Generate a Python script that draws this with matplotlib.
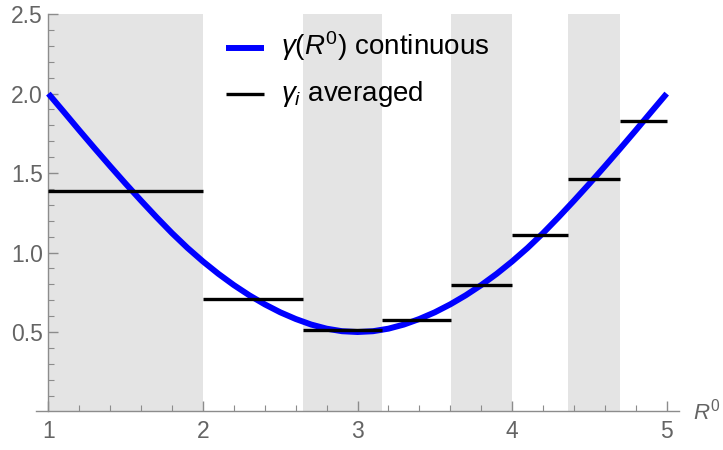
import numpy as np
import matplotlib
matplotlib.use("Agg")
import matplotlib.pyplot as plt
from matplotlib.ticker import FixedLocator
from matplotlib.lines import Line2D

plt.rcParams["font.family"] = ["Liberation Sans", "DejaVu Sans"]
plt.rcParams["mathtext.fontset"] = "custom"
plt.rcParams["mathtext.rm"] = "Liberation Sans"
plt.rcParams["mathtext.it"] = "Liberation Sans:italic"

# continuous gamma(R0) sampled on a 0.1 grid
r_grid = [1.0, 1.1, 1.2, 1.3, 1.4, 1.5, 1.6, 1.7, 1.8, 1.9, 2.0,
          2.1, 2.2, 2.3, 2.4, 2.5, 2.6, 2.7, 2.8, 2.9, 3.0,
          3.1, 3.2, 3.3, 3.4, 3.5, 3.6, 3.7, 3.8, 3.9, 4.0,
          4.1, 4.2, 4.3, 4.4, 4.5, 4.6, 4.7, 4.8, 4.9, 5.0]
gamma_cont = [2.000, 1.885, 1.769, 1.655, 1.543, 1.433, 1.326, 1.222, 1.122, 1.029, 0.944,
              0.866, 0.795, 0.731, 0.674, 0.624, 0.582, 0.547, 0.521, 0.505, 0.500,
              0.505, 0.521, 0.547, 0.582, 0.624, 0.674, 0.731, 0.795, 0.866, 0.944,
              1.029, 1.122, 1.222, 1.326, 1.433, 1.543, 1.655, 1.769, 1.885, 2.000]

# bin edges and bin-averaged gamma_i
bin_edges = [1.0, 2.0, 2.65, 3.16, 3.605, 4.0, 4.36, 4.7, 5.0]
gamma_avg = [1.385, 0.71, 0.511, 0.574, 0.795, 1.108, 1.462, 1.827]

# shaded bins (every other bin)
shade_bins = [0, 2, 4, 6]

legend_labels = [r"$\gamma(R^0)$ continuous", r"$\gamma_i$ averaged"]
x_label = r"$R^0$"

blue = "#0000ff"
tick_gray = "#8c8c8c"
label_gray = "#646464"

fig = plt.figure(figsize=(7.23, 4.5), dpi=100)
ax = fig.add_axes([0.0498, 0.0856, 0.889, 0.883])

ax.set_xlim(0.92, 5.078)
ax.set_ylim(0, 2.5)

for i in shade_bins:
    ax.axvspan(bin_edges[i], bin_edges[i + 1], color="#e4e4e4", lw=0, zorder=0)

ax.plot(r_grid, gamma_cont, color=blue, lw=4.3, solid_capstyle="butt",
        solid_joinstyle="round", zorder=3)
ax.hlines(gamma_avg, bin_edges[:-1], bin_edges[1:], color="black", lw=2.4, zorder=4)

# axes styling
for s in ["top", "right"]:
    ax.spines[s].set_visible(False)
ax.spines["left"].set_position(("data", 1.0))
ax.spines["left"].set_bounds(0, 2.5)
for s in ["left", "bottom"]:
    ax.spines[s].set_color(tick_gray)
    ax.spines[s].set_linewidth(1.0)

ax.xaxis.set_major_locator(FixedLocator([1, 2, 3, 4, 5]))
ax.xaxis.set_minor_locator(FixedLocator([x / 5 for x in range(5, 26) if x % 5]))
ax.yaxis.set_major_locator(FixedLocator([0.5, 1.0, 1.5, 2.0, 2.5]))
ax.yaxis.set_minor_locator(FixedLocator([y / 10 for y in range(1, 25) if y % 5]))
ax.set_yticklabels(["0.5", "1.0", "1.5", "2.0", "2.5"])

ax.tick_params(which="both", direction="in", colors=tick_gray, labelcolor=label_gray,
               labelsize=16.5)
ax.tick_params(which="major", length=7, width=1.0)
ax.tick_params(which="minor", length=4, width=0.8)
ax.tick_params(axis="x", pad=6)
ax.tick_params(axis="y", pad=4)

ax.text(5.172, 0.0, x_label, color=label_gray, fontsize=16,
        ha="left", va="center", clip_on=False)

# legend drawn in figure coordinates
legend_rows = [(0.894, 0.8778, blue, 4.3), (0.791, 0.7756, "black", 2.4)]
for (y_line, y_text, col, lw), lab in zip(legend_rows, legend_labels):
    fig.add_artist(Line2D([0.3126, 0.3651], [y_line, y_line], color=col, lw=lw,
                          solid_capstyle="butt", transform=fig.transFigure))
    fig.text(0.3887, y_text, lab, fontsize=20, color="black", ha="left", va="baseline")

fig.savefig("out.png", dpi=100)
